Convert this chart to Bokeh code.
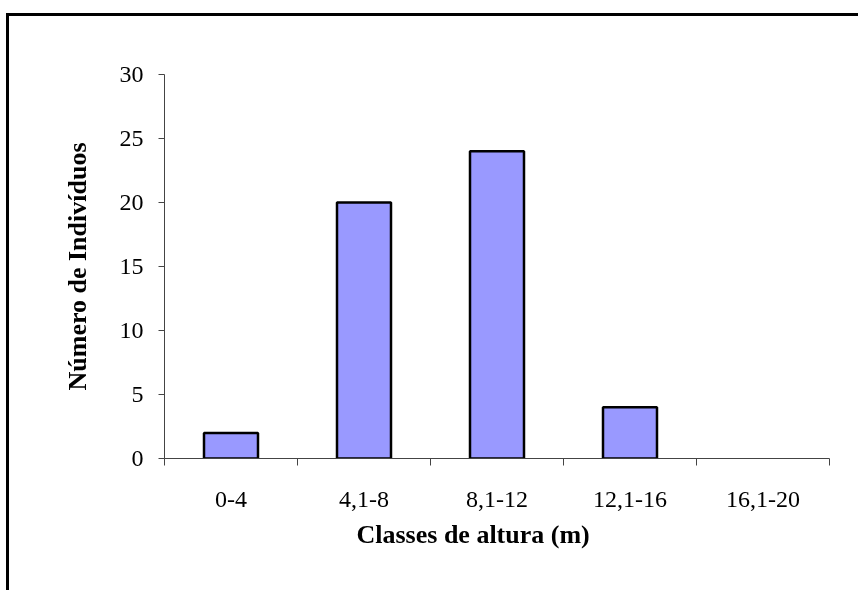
from bokeh.plotting import figure
from bokeh.models import Range1d, FixedTicker, Title
from bokeh.embed import file_html
from bokeh.resources import INLINE

categories = ["0-4", "4,1-8", "8,1-12", "12,1-16", "16,1-20"]
counts = [2, 20, 24, 4, 0]
y_ticks = [0, 5, 10, 15, 20, 25, 30]

x_centers = [i + 0.5 for i in range(len(categories))]
x_bounds = list(range(len(categories) + 1))
# Excel draws nothing for an empty class
bar_x = [x for x, c in zip(x_centers, counts) if c > 0]
bar_top = [c for c in counts if c > 0]

p = figure(width=860, height=580, output_backend="svg", toolbar_location=None,
           x_range=Range1d(0, len(categories)), y_range=Range1d(0, 30),
           min_border_left=155, min_border_right=40, min_border_top=58, min_border_bottom=138)
p.styles = {"position": "fixed", "left": "6px", "top": "13px",
            "border-left": "3px solid black", "border-top": "3px solid black"}
p.outline_line_color = None
p.xgrid.visible = False
p.ygrid.visible = False
p.background_fill_color = "white"
p.border_fill_color = "white"

p.vbar(x=bar_x, top=bar_top, bottom=0, width=0.406,
       fill_color="#9999FF", line_color="black", line_width=2.5)

font = "Liberation Serif"
for ax in (p.xaxis[0], p.yaxis[0]):
    ax.axis_line_color = "#444444"
    ax.axis_line_width = 1
    ax.major_label_text_font = font
    ax.major_label_text_font_size = "24px"
    ax.major_label_text_color = "black"
    ax.axis_label_text_font = font
    ax.axis_label_text_font_size = "26px"
    ax.axis_label_text_font_style = "bold"
    ax.axis_label_text_color = "black"
    ax.major_tick_line_color = "#444444"
    ax.minor_tick_line_color = "#444444"

xa = p.xaxis[0]
xa.ticker = FixedTicker(ticks=x_centers, minor_ticks=x_bounds)
xa.major_label_overrides = {c: lab for c, lab in zip(x_centers, categories)}
xa.major_tick_out = 0
xa.major_tick_in = 0
xa.minor_tick_out = 7
xa.minor_tick_in = 0
xa.major_label_standoff = 26

x_title = Title(text="Classes de altura (m)", align="left", offset=192,
                text_font=font, text_font_size="26px", text_font_style="bold",
                text_color="black", standoff=16)
p.add_layout(x_title, "below")

ya = p.yaxis[0]
ya.ticker = FixedTicker(ticks=y_ticks)
ya.major_tick_out = 6
ya.major_tick_in = 0
ya.minor_tick_out = 0
ya.minor_tick_in = 0
ya.major_label_standoff = 15
ya.axis_label = "Número de Indivíduos"
ya.axis_label_standoff = 25

html = file_html(p, INLINE)
open("out.html", "w").write(html)
